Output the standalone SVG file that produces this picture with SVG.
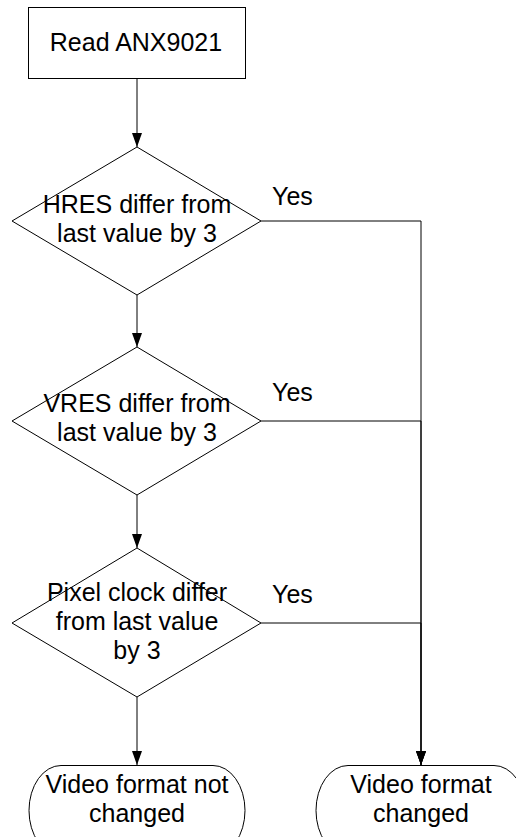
<svg xmlns="http://www.w3.org/2000/svg" width="516" height="837" viewBox="0 0 516 837">
  <style>
    .shape { fill: #ffffff; stroke: #000000; stroke-width: 1; }
    .lbl { font-family: "Liberation Sans", Arial, sans-serif; font-size: 25px; fill: #000000; text-anchor: middle; }
    .yes { font-family: "Liberation Sans", Arial, sans-serif; font-size: 25px; fill: #000000; }
    .conn { fill: none; stroke: #000000; stroke-width: 1; }
  </style>
  <defs>
    <marker id="arrow" markerUnits="userSpaceOnUse" markerWidth="14" markerHeight="10" refX="14" refY="5" orient="auto">
      <path d="M0,0 L14,5 L0,10 z" fill="#000000"/>
    </marker>
  </defs>
  <rect width="516" height="837" fill="#ffffff"/>

  <g id="connectors">
    <line class="conn" x1="137" y1="79" x2="137" y2="147" marker-end="url(#arrow)"/>
    <line class="conn" x1="137" y1="295" x2="137" y2="347" marker-end="url(#arrow)"/>
    <line class="conn" x1="137" y1="495" x2="137" y2="548" marker-end="url(#arrow)"/>
    <line class="conn" x1="137" y1="697" x2="137" y2="765" marker-end="url(#arrow)"/>
    <polyline class="conn" points="261,221 421,221 421,765" marker-end="url(#arrow)"/>
    <polyline class="conn" points="261,421 421,421 421,765" marker-end="url(#arrow)"/>
    <polyline class="conn" points="261,623 421,623 421,765" marker-end="url(#arrow)"/>
    <text class="yes" x="272" y="205">Yes</text>
    <text class="yes" x="272" y="401">Yes</text>
    <text class="yes" x="272" y="603">Yes</text>
  </g>

  <g id="read">
    <rect class="shape" x="28.5" y="7.5" width="217" height="71"/>
    <text class="lbl" x="136" y="51">Read ANX9021</text>
  </g>

  <g id="hres">
    <polygon class="shape" points="137,147 261,221 137,295 12,221"/>
    <text class="lbl" x="137" y="213">HRES differ from</text>
    <text class="lbl" x="137" y="242">last value by 3</text>
  </g>

  <g id="vres">
    <polygon class="shape" points="137,347 261,421 137,495 12,421"/>
    <text class="lbl" x="137" y="412">VRES differ from</text>
    <text class="lbl" x="137" y="441">last value by 3</text>
  </g>

  <g id="pixclk">
    <polygon class="shape" points="137,548 261,623 137,697 12,623"/>
    <text class="lbl" x="137" y="601">Pixel clock differ</text>
    <text class="lbl" x="137" y="630">from last value</text>
    <text class="lbl" x="137" y="659">by 3</text>
  </g>

  <g id="notchanged">
    <rect class="shape" x="29" y="765.5" width="216" height="90" rx="32" ry="45"/>
    <text class="lbl" x="137" y="793">Video format not</text>
    <text class="lbl" x="137" y="822">changed</text>
  </g>

  <g id="changed">
    <rect class="shape" x="316" y="765.5" width="210" height="90" rx="32" ry="45"/>
    <text class="lbl" x="421" y="793">Video format</text>
    <text class="lbl" x="421" y="822">changed</text>
  </g>
</svg>
